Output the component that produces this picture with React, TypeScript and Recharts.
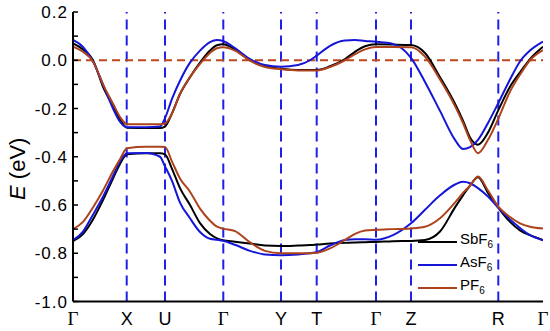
import React from "react";
import { LineChart, Line, XAxis, YAxis, ReferenceLine, Legend } from "recharts";

// k-path positions (arbitrary distance units along the path)
const kGrid = [0, 10, 20, 30, 40, 47, 54, 73, 87, 92, 99, 107, 117, 127, 137, 144, 150, 162, 177, 192, 208, 225, 237, 244, 257, 272, 282, 292, 303, 320, 338, 352, 367, 382, 390, 397, 405, 415, 425, 437, 447, 457, 470];

const symPoints = [0, 53.7, 92, 150.3, 208, 243.7, 303, 338, 425.3, 470];
const symLabels = ["Γ", "X", "U", "Γ", "Y", "T", "Γ", "Z", "R", "Γ"];
const yTicks = [-1.0, -0.9, -0.8, -0.7, -0.6, -0.5, -0.4, -0.3, -0.2, -0.1, 0.0, 0.1, 0.2];

const sbUpper = [0.07, 0.045, 0.0, -0.11, -0.19, -0.245, -0.28, -0.281, -0.281, -0.275, -0.22, -0.14, -0.07, -0.01, 0.04, 0.062, 0.066, 0.045, 0.0, -0.025, -0.035, -0.04, -0.04, -0.04, -0.025, 0.005, 0.035, 0.058, 0.066, 0.065, 0.063, 0.03, -0.07, -0.18, -0.25, -0.32, -0.35, -0.3, -0.21, -0.11, -0.05, 0.005, 0.056];
const asUpper = [0.084, 0.055, -0.005, -0.1, -0.2, -0.255, -0.278, -0.278, -0.275, -0.24, -0.16, -0.085, -0.01, 0.04, 0.075, 0.084, 0.08, 0.05, 0.005, -0.02, -0.027, -0.02, 0.0, 0.02, 0.06, 0.082, 0.084, 0.08, 0.077, 0.068, 0.01, -0.09, -0.21, -0.33, -0.368, -0.36, -0.33, -0.26, -0.18, -0.08, -0.005, 0.04, 0.077];
const pfUpper = [0.056, 0.035, -0.005, -0.1, -0.18, -0.235, -0.265, -0.265, -0.265, -0.262, -0.22, -0.14, -0.07, -0.015, 0.03, 0.05, 0.054, 0.04, -0.002, -0.028, -0.037, -0.042, -0.042, -0.042, -0.028, 0.0, 0.025, 0.045, 0.055, 0.055, 0.054, 0.015, -0.08, -0.19, -0.26, -0.33, -0.385, -0.33, -0.245, -0.13, -0.06, 0.0, 0.042];

const sbLower = [-0.75, -0.72, -0.66, -0.58, -0.49, -0.43, -0.39, -0.386, -0.386, -0.39, -0.45, -0.53, -0.6, -0.675, -0.72, -0.738, -0.746, -0.752, -0.76, -0.768, -0.77, -0.768, -0.766, -0.764, -0.76, -0.757, -0.755, -0.754, -0.753, -0.75, -0.749, -0.745, -0.71, -0.61, -0.56, -0.52, -0.485, -0.55, -0.61, -0.67, -0.705, -0.725, -0.745];
const asLower = [-0.746, -0.71, -0.64, -0.566, -0.48, -0.42, -0.386, -0.384, -0.4, -0.44, -0.5, -0.59, -0.655, -0.712, -0.74, -0.744, -0.748, -0.765, -0.79, -0.805, -0.808, -0.805, -0.8, -0.795, -0.768, -0.745, -0.742, -0.742, -0.744, -0.725, -0.676, -0.62, -0.56, -0.515, -0.504, -0.51, -0.53, -0.565, -0.61, -0.66, -0.695, -0.725, -0.746];
const pfLower = [-0.7, -0.67, -0.61, -0.54, -0.46, -0.41, -0.365, -0.359, -0.359, -0.36, -0.42, -0.49, -0.545, -0.615, -0.665, -0.69, -0.698, -0.708, -0.755, -0.79, -0.8, -0.8, -0.8, -0.798, -0.78, -0.745, -0.72, -0.706, -0.703, -0.7, -0.697, -0.69, -0.655, -0.59, -0.55, -0.52, -0.482, -0.54, -0.605, -0.65, -0.676, -0.69, -0.697];

const seriesBase = ["SbF", "AsF", "PF"];
const seriesSub = ["6", "6", "6"];
const seriesColors = ["#000000", "#1616d8", "#ad431d"];

const rows = kGrid.map((k, i) => ({
  k,
  sbU: sbUpper[i],
  asU: asUpper[i],
  pfU: pfUpper[i],
  sbL: sbLower[i],
  asL: asLower[i],
  pfL: pfLower[i],
}));

const SANS = "'Liberation Sans', Arial, sans-serif";
const SERIF = "'Liberation Serif', 'Times New Roman', serif";

const XTick = (props: any) => {
  const { x, y, payload } = props;
  const idx = symPoints.indexOf(payload.value);
  const label = symLabels[idx] ?? "";
  const isGamma = label === "Γ";
  return (
    <text
      x={x}
      y={y}
      dy={23.5}
      textAnchor="middle"
      fill="#000"
      fontSize={isGamma ? 19 : 18}
      fontFamily={isGamma ? SERIF : SANS}
    >
      {label}
    </text>
  );
};

const YTick = (props: any) => {
  const { x, y, payload } = props;
  const v = payload.value;
  const even = Math.abs(Math.round(v * 10)) % 2 === 0;
  if (!even) return null;
  return (
    <text
      x={x}
      y={y}
      dy="0.36em"
      textAnchor="end"
      fill="#000"
      fontSize={17}
      fontFamily={SANS}
      letterSpacing={1}
    >
      {v.toFixed(1)}
    </text>
  );
};

const YLabel = (props: any) => {
  const vb = props.viewBox || { x: 0, y: 12, width: 73, height: 290 };
  const cx = vb.x + 17;
  const cy = vb.y + vb.height / 2 + 12;
  return (
    <text
      x={cx}
      y={cy}
      transform={`rotate(-90 ${cx} ${cy})`}
      textAnchor="middle"
      dominantBaseline="central"
      fill="#000"
      fontSize={22}
      fontFamily={SANS}
    >
      <tspan fontStyle="italic">E</tspan>
      <tspan> (eV)</tspan>
    </text>
  );
};

const LegendContent = () => {
  return (
    <div style={{ fontFamily: SANS, fontSize: 15, color: "#000" }}>
      {seriesBase.map((base, i) => (
        <div key={i} style={{ display: "flex", alignItems: "center", height: 23 }}>
          <span style={{ display: "inline-block", width: 39, height: 2, background: seriesColors[i], marginRight: 3 }} />
          <span style={{ lineHeight: "15px" }}>
            {base}
            <sub style={{ fontSize: 10, verticalAlign: "-4px" }}>{seriesSub[i]}</sub>
          </span>
        </div>
      ))}
    </div>
  );
};

const upperKeys = ["sbU", "asU", "pfU"];
const lowerKeys = ["sbL", "asL", "pfL"];

export default function App() {
  return (
    <div style={{ position: "fixed", left: 0, top: 0, width: 550, height: 331, background: "#fff" }}>
      <LineChart width={550} height={331} data={rows} margin={{ top: 12, right: 7, bottom: 0, left: 0 }}>
        <XAxis
          dataKey="k"
          type="number"
          domain={[0, 470]}
          ticks={symPoints}
          interval={0}
          tick={<XTick />}
          tickLine={false}
          tickSize={0}
          tickMargin={0}
          height={29.5}
          axisLine={{ stroke: "#000", strokeWidth: 2 }}
          allowDataOverflow
        />
        <XAxis
          xAxisId="top"
          orientation="top"
          dataKey="k"
          type="number"
          domain={[0, 470]}
          tick={false}
          tickLine={false}
          height={0}
          axisLine={{ stroke: "#000", strokeWidth: 2 }}
        />
        <YAxis
          type="number"
          domain={[-1, 0.2]}
          ticks={yTicks}
          interval={0}
          width={73}
          tick={<YTick />}
          tickSize={-5}
          tickMargin={10}
          tickLine={{ stroke: "#000", strokeWidth: 1.5 }}
          axisLine={{ stroke: "#000", strokeWidth: 2 }}
          label={<YLabel />}
          allowDataOverflow
        />
        <YAxis
          yAxisId="right"
          orientation="right"
          type="number"
          domain={[-1, 0.2]}
          ticks={yTicks}
          interval={0}
          width={0}
          tick={false}
          tickSize={-5}
          tickLine={{ stroke: "#000", strokeWidth: 1.5 }}
          axisLine={{ stroke: "#000", strokeWidth: 2 }}
        />
        {symPoints.slice(1, -1).map((p, i) => (
          <ReferenceLine key={"v" + i} x={p} stroke="#1f1fe6" strokeWidth={2} strokeDasharray="10 6" />
        ))}
        <ReferenceLine y={0} stroke="#c0461e" strokeWidth={2} strokeDasharray="8 5" />
        {upperKeys.map((key, i) => (
          <Line
            key={key}
            dataKey={key}
            name={seriesBase[i] + seriesSub[i]}
            type="monotone"
            stroke={seriesColors[i]}
            strokeWidth={2}
            dot={false}
            activeDot={false}
            isAnimationActive={false}
          />
        ))}
        {lowerKeys.map((key, i) => (
          <Line
            key={key}
            dataKey={key}
            name={seriesBase[i] + seriesSub[i] + " "}
            legendType="none"
            type="monotone"
            stroke={seriesColors[i]}
            strokeWidth={2}
            dot={false}
            activeDot={false}
            isAnimationActive={false}
          />
        ))}
        <Legend
          layout="horizontal"
          verticalAlign="middle"
          align="center"
          content={<LegendContent />}
          wrapperStyle={{ left: 418, top: 230, width: 110, height: 70 }}
        />
      </LineChart>
    </div>
  );
}
